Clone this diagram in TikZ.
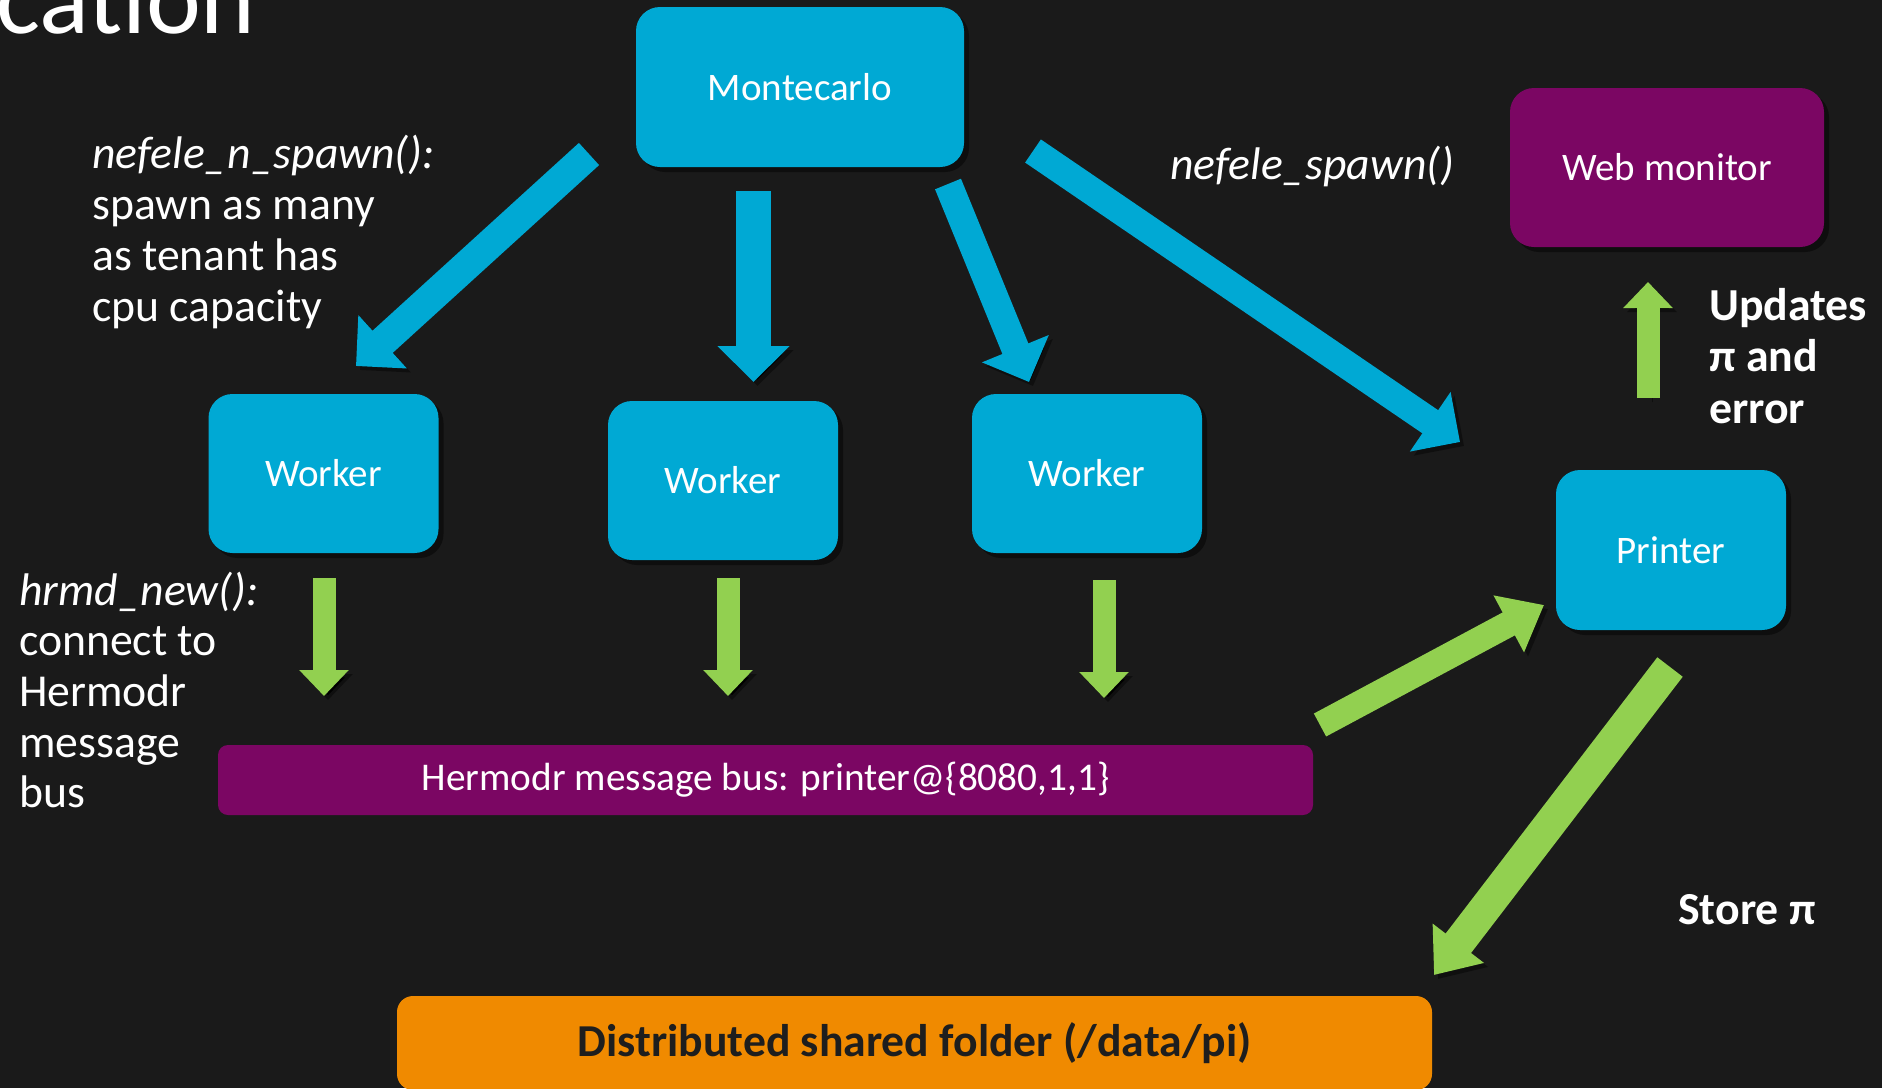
\documentclass[tikz,border=0pt]{standalone}
\usepackage{fontspec}
\setmainfont{Carlito}
\usetikzlibrary{arrows.meta,shadows}

\definecolor{bgdark}{HTML}{1A1A1A}
\definecolor{ebl}{HTML}{00A9D4}
\definecolor{epurple}{HTML}{7B0663}
\definecolor{egreen}{HTML}{92D050}
\definecolor{eorange}{HTML}{F08A00}
\definecolor{inkdark}{HTML}{1E1E1E}

\tikzset{
  boxshadow/.style={drop shadow={shadow xshift=5pt, shadow yshift=-5pt, opacity=0.45, fill=black}},
  bluebox/.style={fill=ebl, rounded corners=24pt, text=white, boxshadow,
    minimum width=230pt, minimum height=159pt, inner sep=0pt,
    font=\fontsize{39}{44}\selectfont},
  purplebox/.style={fill=epurple, rounded corners=24pt, text=white, boxshadow,
    minimum width=314pt, minimum height=159pt, inner sep=0pt,
    font=\fontsize{39}{44}\selectfont},
  busbox/.style={fill=epurple, rounded corners=10pt, text=white,
    minimum width=1095pt, minimum height=70pt, inner sep=0pt,
    font=\fontsize{39.3}{44}\selectfont},
  folderbox/.style={fill=eorange, rounded corners=16pt, text=inkdark,
    minimum width=1035pt, minimum height=94pt, inner sep=0pt,
    font=\fontsize{45.7}{50}\selectfont\bfseries},
  note/.style={text=white, anchor=west, inner sep=0pt, align=left,
    font=\fontsize{45.7}{50.7}\selectfont},
  boldnote/.style={note, font=\fontsize{45.8}{51.5}\selectfont\bfseries},
  arrowshade/.style={preaction={draw=black, draw opacity=0.4,
    transform canvas={shift={(4pt,-4pt)}}}},
  bluearrow/.style={draw=ebl, line width=#1, arrowshade,
    -{Triangle[width=70pt,length=36pt]}},
  bluearrow/.default=30pt,
  greenarrow/.style={draw=egreen, line width=#1, arrowshade,
    -{Triangle[width=48pt,length=26pt]}},
  greenarrow/.default=23pt,
  greenbig/.style={draw=egreen, line width=#1, arrowshade,
    -{Triangle[width=62pt,length=40pt]}},
  greenbig/.default=28pt,
}

\begin{document}
\begin{tikzpicture}[x=1pt,y=-1pt]
\fill[bgdark] (0,0) rectangle (1882,1088);
\useasboundingbox (0,0) rectangle (1882,1088);

% page title, cut by the top edge
\node[anchor=base west, inner sep=0pt, text=white,
  font=\fontsize{104}{110}\selectfont] (title) at (-4,33) {cation};

% boxes
\node[bluebox, minimum width=328pt, minimum height=160pt] (mc) at (800,87) {Montecarlo};
\node[purplebox] (web) at (1667,167.5) {Web monitor};
\node[bluebox] (w1) at (323.5,473.5) {Worker};
\node[bluebox] (w2) at (723,480.5) {Worker};
\node[bluebox] (w3) at (1087,473.5) {Worker};
\node[bluebox, minimum height=160pt] (pr) at (1671,550) {Printer};
\node[busbox] (bus) at (765.5,780) {Hermodr message bus: printer@\{8080,1,1\}};
\node[folderbox] (dsf) at (914.5,1043) {Distributed shared folder (/data/pi)};

% annotations
\node[note] (spawnn) at (92,232) {\textit{nefele\_n\_spawn():}\\spawn as many\\as tenant has\\cpu capacity};
\node[note] (spawn) at (1170,166) {\textit{nefele\_spawn()}};
\node[note] (hrmd) at (19,690) {\textit{hrmd\_new():}\\connect to\\Hermodr\\message\\bus};
\node[boldnote] (upd) at (1709,356) {Updates\\π and\\error};
\node[boldnote] (store) at (1678,910) {Store π};

% arrow end points
\coordinate (a1s) at (589,154);  \coordinate (a1e) at (356,366);
\coordinate (a2s) at (753.5,191); \coordinate (a2e) at (753.5,382);
\coordinate (a3s) at (948,184);  \coordinate (a3e) at (1029,382);
\coordinate (a4s) at (1033,151); \coordinate (a4e) at (1460,442);
\coordinate (g1s) at (324,578);  \coordinate (g1e) at (324,696);
\coordinate (g2s) at (728,578);  \coordinate (g2e) at (728,696);
\coordinate (g3s) at (1104,580); \coordinate (g3e) at (1104,698);
\coordinate (gus) at (1648,398); \coordinate (gue) at (1648,282);
\coordinate (gbs) at (1320,725); \coordinate (gbe) at (1544,605);
\coordinate (gfs) at (1670,667); \coordinate (gfe) at (1434,975);

% spawning arrows from Montecarlo
\draw[bluearrow] (a1s) -- (a1e);
\draw[bluearrow=35pt] (a2s) -- (a2e);
\draw[bluearrow=28pt] (a3s) -- (a3e);
\draw[bluearrow=28pt] (a4s) -- (a4e);

% message flow
\draw[greenarrow] (g1s) -- (g1e);
\draw[greenarrow] (g2s) -- (g2e);
\draw[greenarrow] (g3s) -- (g3e);
\draw[greenarrow] (gus) -- (gue);
\draw[greenbig=26pt] (gbs) -- (gbe);
\draw[greenbig=32pt] (gfs) -- (gfe);
\end{tikzpicture}
\end{document}
